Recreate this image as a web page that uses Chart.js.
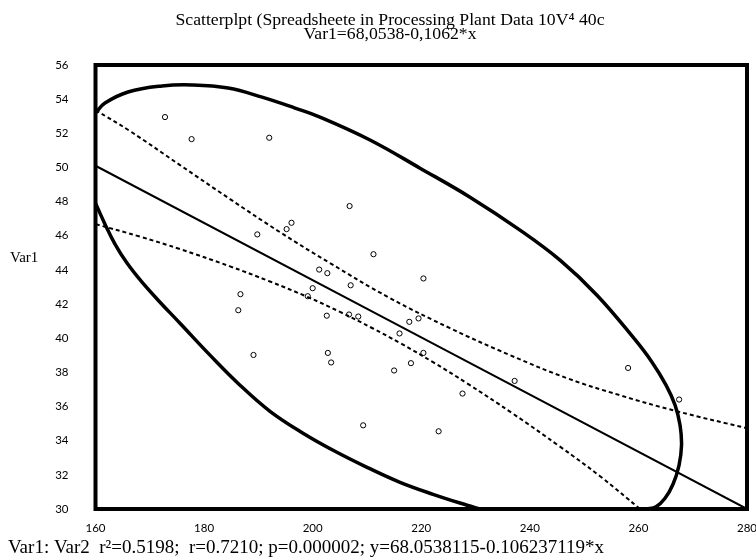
<!DOCTYPE html>
<html><head><meta charset="utf-8">
<script src="https://cdn.jsdelivr.net/npm/chart.js@4"></script>
<style>html,body{margin:0;padding:0;background:#fff}</style>
</head><body>
<canvas id="c" width="756" height="560"></canvas>
<script>
// ---- text ----
const titleLines = ["Scatterplpt (Spreadsheete in Processing Plant Data 10V\u2074 40c", "Var1=68,0538-0,1062*x"];
const yAxisLabel = "Var1";
const caption = "Var1: Var2  r\u00b2=0.5198;  r=0.7210; p=0.000002; y=68.0538115-0.106237119*x";

// ---- tick labels ----
const xTickValues = [160, 180, 200, 220, 240, 260, 280];
const yTickValues = [30, 32, 34, 36, 38, 40, 42, 44, 46, 48, 50, 52, 54, 56];

// ---- scatter points (Var2 on x, Var1 on y) ----
const var2 = [172.8, 177.7, 192.0, 206.8, 196.1, 195.2, 189.8, 211.2, 220.4, 201.2, 202.7, 207.0, 200.0, 199.1, 186.7, 186.3, 202.6, 206.7, 208.4, 217.8, 219.5, 216.0, 220.4, 218.1, 215.0, 189.1, 202.8, 203.4, 227.6, 209.3, 223.2, 237.2, 258.1, 267.5];
const var1 = [52.95, 51.66, 51.74, 47.74, 46.76, 46.39, 46.08, 44.92, 43.50, 44.02, 43.81, 43.10, 42.93, 42.46, 42.58, 41.64, 41.32, 41.39, 41.27, 40.96, 41.16, 40.28, 39.14, 38.54, 38.11, 39.02, 39.14, 38.58, 36.76, 34.90, 34.55, 37.50, 38.26, 36.41];

// ---- fitted line (as drawn) ----
const fitX = [160, 280];
const fitY = [50.1, 30.0];

// ---- upper confidence band ----
const upperX = [160, 166.35, 175.56, 184.77, 193.98, 203.19, 214.25, 225.30, 236.35, 246.85, 256.61, 267.11, 280];
const upperY = [53.36, 52.13, 50.14, 48.15, 46.21, 44.40, 42.35, 40.59, 39.01, 37.66, 36.66, 35.72, 34.73];

// ---- lower confidence band ----
const lowerX = [160, 168.20, 175.56, 184.77, 192.14, 198.96, 205.04, 211.11, 216.09, 222.17, 228.43, 236.90, 245.56, 252.93, 260.30];
const lowerY = [46.68, 45.95, 45.22, 44.21, 43.32, 42.43, 41.54, 40.57, 39.72, 38.60, 37.36, 35.58, 33.65, 31.92, 30.0];

// ---- prediction ellipse, upper/right visible arc ----
const ellTopX = [160, 161.75, 165.99, 172.25, 177.77, 184.41, 190.67, 196.75, 201.35, 210.56, 219.77, 228.98, 238.19, 245.56, 252.37, 259.01, 262.51, 265.09, 266.75, 267.67, 267.94, 267.48, 266.37, 264.90, 263.24, 261.40];
const ellTopY = [53.19, 53.77, 54.42, 54.77, 54.83, 54.65, 54.12, 53.48, 52.95, 51.61, 49.96, 48.26, 46.33, 44.57, 42.52, 40.06, 38.60, 37.25, 36.08, 34.90, 33.73, 32.56, 31.45, 30.63, 30.13, 30.0];

// ---- prediction ellipse, lower/left visible arc ----
const ellLowX = [160, 161.75, 163.59, 165.80, 168.57, 171.88, 175.56, 181.09, 186.62, 192.14, 198.22, 204.11, 210.01, 216.09, 222.17, 228.43, 230.82];
const ellLowY = [47.91, 46.68, 45.51, 44.40, 43.28, 42.11, 40.88, 39.01, 37.25, 35.72, 34.44, 33.38, 32.44, 31.56, 30.86, 30.22, 30.0];

const pts = (xs, ys) => xs.map((x, i) => ({x: x, y: ys[i]}));

const lineDs = (xs, ys, w, dash) => ({
  data: pts(xs, ys), showLine: true, pointRadius: 0, borderColor: '#000',
  borderWidth: w, borderDash: dash || [], tension: 0.4, fill: false
});

const textPlugin = {
  id: 'texts',
  afterDraw(chart) {
    const ctx = chart.ctx;
    ctx.save();
    ctx.fillStyle = '#000';
    ctx.font = '17.7px "Liberation Serif"';
    ctx.textAlign = 'center';
    ctx.textBaseline = 'alphabetic';
    ctx.fillText(titleLines[0], 390, 25);
    ctx.fillText(titleLines[1], 390, 38.5);
    ctx.textAlign = 'left';
    ctx.font = '15px "Liberation Serif"';
    ctx.fillText(yAxisLabel, 10, 262);
    ctx.font = '19px "Liberation Serif"';
    ctx.fillText(caption, 8, 553);
    ctx.restore();
  }
};

const framePlugin = {
  id: 'frame',
  afterDatasetsDraw(chart) {
    const {ctx, chartArea: a} = chart;
    ctx.save();
    ctx.lineWidth = 4;
    ctx.strokeStyle = '#000';
    ctx.strokeRect(a.left, a.top, a.right - a.left, a.bottom - a.top);
    ctx.restore();
  }
};

new Chart(document.getElementById('c'), {
  type: 'scatter',
  data: {
    datasets: [
      lineDs(ellTopX, ellTopY, 3.5),
      lineDs(ellLowX, ellLowY, 3.5),
      lineDs(upperX, upperY, 2, [4, 3]),
      lineDs(lowerX, lowerY, 2, [4, 3]),
      lineDs(fitX, fitY, 2),
      {
        data: pts(var2, var1), showLine: false, pointRadius: 2.6, pointBorderWidth: 1,
        pointBorderColor: '#000', pointBackgroundColor: '#fff'
      }
    ]
  },
  options: {
    responsive: false,
    animation: false,
    layout: {padding: {top: 65, right: 9, bottom: 21, left: 8}},
    plugins: {legend: {display: false}, title: {display: false}, tooltip: {enabled: false}},
    scales: {
      x: {
        type: 'linear', min: 160, max: 280,
        grid: {display: false, drawTicks: false}, border: {display: false},
        afterBuildTicks: s => { s.ticks = xTickValues.map(v => ({value: v})); },
        ticks: {padding: 12, color: '#000', font: {family: 'Lato', size: 11.5}, maxRotation: 0, autoSkip: false},
        afterFit: s => { s.height = 30; s.paddingLeft = 0; s.paddingRight = 0; }
      },
      y: {
        type: 'linear', min: 30, max: 56,
        grid: {display: false, drawTicks: false}, border: {display: false},
        afterBuildTicks: s => { s.ticks = yTickValues.map(v => ({value: v})); },
        ticks: {padding: 27, color: '#000', font: {family: 'Lato', size: 11.5}, autoSkip: false},
        afterFit: s => { s.width = 87.5; s.paddingTop = 0; s.paddingBottom = 0; }
      }
    }
  },
  plugins: [framePlugin, textPlugin]
});
</script>
</body></html>
